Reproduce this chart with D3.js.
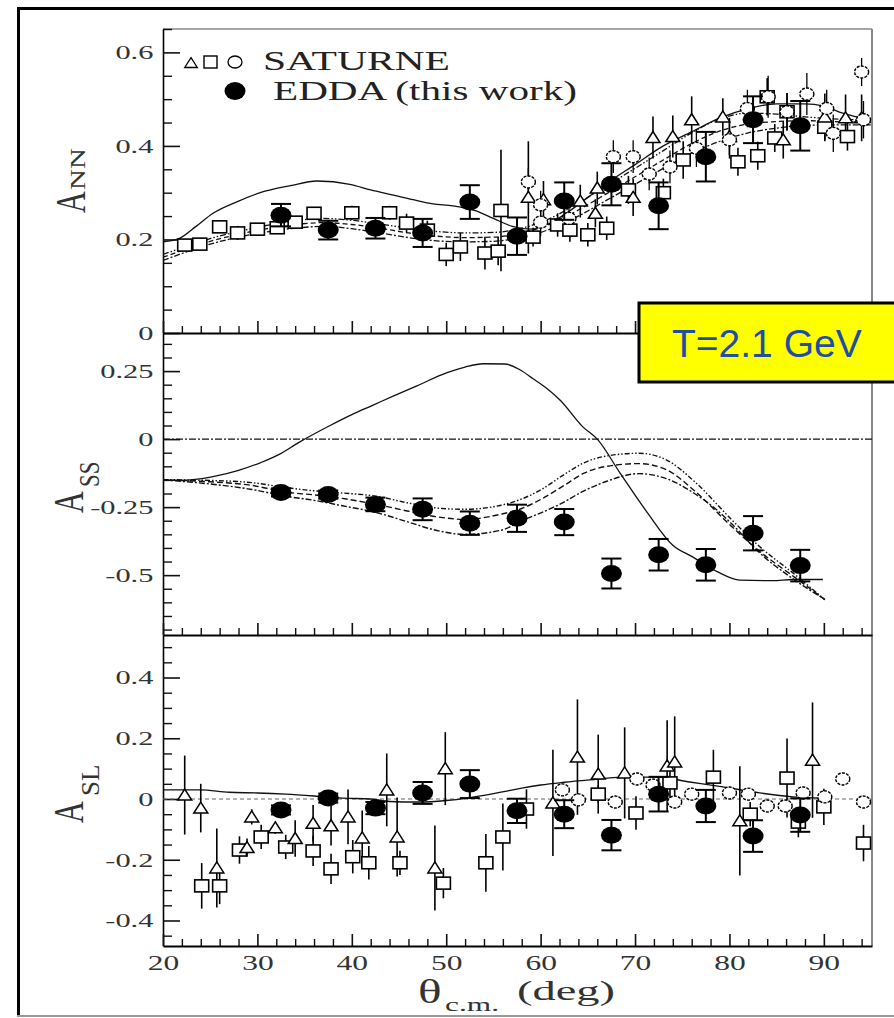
<!DOCTYPE html>
<html><head><meta charset="utf-8">
<script src="https://cdn.jsdelivr.net/npm/d3@7"></script>
<style>body{margin:0;background:#fff}</style>
</head><body>
<svg id="chart" width="894" height="1018"></svg>
<script>
// ---------------- DATA ----------------
const xTicks = [20,30,40,50,60,70,80,90];
const annTicks = [0,0.2,0.4,0.6];
const annTickLabels = ["0","0.2","0.4","0.6"];
const assTicks = [-0.5,-0.25,0,0.25];
const assTickLabels = ["-0.5","-0.25","0","0.25"];
const aslTicks = [-0.4,-0.2,0,0.2,0.4];
const aslTickLabels = ["-0.4","-0.2","0","0.2","0.4"];

// EDDA (this work)
const eddaTheta = [32.5,37.5,42.5,47.5,52.5,57.5,62.5,67.5,72.5,77.5,82.5,87.5];
const eddaANN    = [0.252,0.220,0.224,0.214,0.280,0.207,0.282,0.318,0.272,0.377,0.456,0.443];
const eddaANNerr = [0.024,0.020,0.022,0.030,0.036,0.040,0.040,0.045,0.050,0.053,0.050,0.053];
const eddaASS    = [-0.196,-0.204,-0.240,-0.258,-0.309,-0.291,-0.305,-0.494,-0.425,-0.462,-0.346,-0.465];
const eddaASSerr = [0.015,0.015,0.025,0.040,0.043,0.050,0.048,0.055,0.058,0.058,0.063,0.058];
const eddaASL    = [-0.036,0.003,-0.030,0.020,0.049,-0.039,-0.050,-0.119,0.016,-0.023,-0.122,-0.053];
const eddaASLerr = [0.015,0.015,0.020,0.036,0.046,0.040,0.046,0.050,0.057,0.053,0.052,0.055];

// SATURNE [theta, value, error]
const satANNsq = [[22.3,0.188,0.012],[23.9,0.19,0.012],[26.0,0.227,0.012],[27.9,0.214,0.015],[30.0,0.222,0.012],[32.1,0.225,0.012],[34.0,0.237,0.012],[36.0,0.256,0.012],[40.0,0.257,0.015],[44.0,0.257,0.015],[45.8,0.235,0.02],[48.0,0.22,0.02],[50.0,0.168,0.025],[51.5,0.184,0.03],[54.1,0.171,0.035],[55.5,0.175,0.03],[55.8,0.262,0.13],[59.2,0.205,0.02],[61.8,0.231,0.025],[63.1,0.22,0.025],[65.0,0.21,0.025],[67.0,0.224,0.025],[69.3,0.306,0.03],[73.0,0.30,0.03],[75.1,0.37,0.04],[80.9,0.366,0.03],[83.0,0.379,0.03],[84.0,0.505,0.04],[84.8,0.417,0.03],[86.1,0.473,0.04],[90.1,0.44,0.03],[92.5,0.42,0.03]];
const satANNtri = [[58.7,0.29,0.12],[60.3,0.285,0.04],[64.2,0.282,0.035],[65.8,0.256,0.03],[66.0,0.31,0.035],[69.8,0.29,0.04],[71.9,0.418,0.045],[74.0,0.42,0.045],[76.0,0.456,0.05],[79.3,0.462,0.04],[80.0,0.42,0.04],[85.7,0.413,0.04],[90.1,0.462,0.05],[92.3,0.46,0.05],[94.0,0.46,0.05]];
const satANNcirc = [[58.7,0.323,0.03],[60.0,0.274,0.03],[60.0,0.237,0.03],[63.0,0.245,0.03],[67.7,0.377,0.035],[69.8,0.377,0.035],[71.5,0.34,0.035],[73.7,0.355,0.035],[76.5,0.395,0.04],[80.0,0.413,0.04],[81.9,0.48,0.04],[84.1,0.505,0.045],[86.1,0.473,0.04],[88.2,0.511,0.045],[90.3,0.48,0.04],[91.0,0.427,0.04],[94.0,0.558,0.03],[94.2,0.456,0.04]];
const satASLtri = [[22.3,0.013,0.13],[24.0,-0.03,0.08],[25.7,-0.227,0.13],[28.9,-0.16,0.03],[29.4,-0.059,0.025],[31.9,-0.095,0.02],[34.0,-0.13,0.06],[35.9,-0.08,0.06],[37.8,-0.088,0.065],[39.6,-0.059,0.09],[41.1,-0.128,0.09],[43.7,0.03,0.12],[44.8,-0.125,0.13],[48.8,-0.227,0.14],[49.9,0.1,0.12],[61.3,-0.013,0.175],[63.9,0.138,0.19],[66.1,0.082,0.13],[68.9,0.086,0.15],[73.4,0.109,0.15],[74.2,0.122,0.15],[81.1,-0.072,0.18],[88.8,0.128,0.19]];
const satASLsq = [[24.1,-0.286,0.075],[26.0,-0.286,0.06],[28.1,-0.168,0.045],[30.4,-0.125,0.04],[33.0,-0.158,0.04],[35.9,-0.171,0.05],[37.8,-0.23,0.05],[40.1,-0.19,0.055],[41.8,-0.21,0.055],[45.1,-0.21,0.04],[49.7,-0.277,0.05],[54.2,-0.21,0.095],[56.0,-0.125,0.11],[58.5,-0.033,0.065],[66.1,0.016,0.03],[70.1,-0.046,0.055],[73.7,0.053,0.05],[78.3,0.072,0.09],[82.2,-0.05,0.04],[86.1,0.069,0.13],[87.3,-0.076,0.05],[90.0,-0.026,0.06],[94.2,-0.145,0.06]];
const satASLcirc = [[62.3,0.03,0.02],[64.0,-0.003,0.02],[67.9,-0.01,0.02],[70.2,0.066,0.02],[71.9,0.046,0.02],[74.2,-0.01,0.02],[76.0,0.016,0.02],[80.0,0.02,0.02],[82.0,0.016,0.02],[84.0,-0.023,0.02],[85.9,-0.023,0.02],[87.8,0.02,0.02],[90.1,0.007,0.02],[92.0,0.066,0.02],[94.2,-0.01,0.02]];

// Theory curves [theta, value]
const annSolid = [[20,0.195],[21.8,0.203],[23.5,0.228],[25.3,0.256],[28,0.282],[30.3,0.30],[33.5,0.315],[36.3,0.325],[39.8,0.318],[42,0.306],[44.4,0.295],[46.5,0.285],[48.6,0.276],[50.7,0.272],[53,0.262],[55,0.245],[57,0.228],[59,0.222],[61,0.235],[63,0.26],[65,0.29],[67,0.32],[70,0.36],[73,0.4],[76,0.43],[79,0.46],[82,0.48],[85,0.49],[88,0.49],[90,0.485],[92,0.47],[95,0.455]];
const annCurveA = [[20,0.168],[22,0.182],[25,0.202],[28,0.217],[31,0.23],[34,0.24],[37,0.245],[40,0.241],[43,0.233],[46,0.224],[49,0.217],[52,0.214],[55,0.215],[58,0.224],[61,0.245],[64,0.278],[67,0.315],[70,0.352],[73,0.39],[76,0.428],[79,0.458],[82,0.47],[85,0.468],[88,0.462],[91,0.458],[95,0.455]];
const annCurveB = [[20,0.162],[22,0.176],[25,0.196],[28,0.211],[31,0.223],[34,0.232],[37,0.236],[40,0.232],[43,0.224],[46,0.214],[49,0.207],[52,0.204],[55,0.205],[58,0.214],[61,0.233],[64,0.263],[67,0.298],[70,0.334],[73,0.37],[76,0.405],[79,0.432],[82,0.447],[85,0.452],[88,0.454],[91,0.452],[95,0.45]];
const annCurveC = [[20,0.155],[22,0.17],[25,0.19],[28,0.205],[31,0.216],[34,0.224],[37,0.228],[40,0.223],[43,0.214],[46,0.204],[49,0.197],[52,0.195],[55,0.196],[58,0.205],[61,0.222],[64,0.25],[67,0.284],[70,0.318],[73,0.352],[76,0.385],[79,0.41],[82,0.428],[85,0.438],[88,0.444],[91,0.445],[95,0.445]];
const assSolid = [[20,-0.15],[22,-0.152],[25.3,-0.138],[28,-0.115],[30.3,-0.087],[32.1,-0.06],[34.5,-0.01],[37.7,0.05],[40,0.09],[42.2,0.124],[44.5,0.16],[46.9,0.196],[50.1,0.244],[52,0.265],[53.9,0.277],[56.2,0.276],[57.8,0.255],[59.2,0.222],[60.7,0.185],[62.1,0.142],[64.5,0.044],[66,0],[68.4,-0.124],[71.3,-0.27],[74,-0.39],[76.1,-0.433],[78.7,-0.487],[81.1,-0.518],[84.6,-0.52],[86.7,-0.516],[89.9,-0.516]];
const assCurveA = [[20,-0.149],[25,-0.152],[29.4,-0.16],[33,-0.178],[36,-0.19],[39,-0.198],[42.6,-0.21],[46,-0.235],[48.9,-0.253],[51.9,-0.258],[55.8,-0.243],[58,-0.22],[60.1,-0.185],[62.5,-0.13],[64.6,-0.087],[67,-0.062],[70.4,-0.052],[73.3,-0.076],[76.3,-0.156],[80.2,-0.295],[83.1,-0.392],[87,-0.50],[90.1,-0.59]];
const assCurveB = [[20,-0.15],[25,-0.157],[29.4,-0.17],[33,-0.195],[36,-0.205],[39,-0.218],[42.6,-0.24],[46,-0.265],[48.9,-0.285],[51.9,-0.295],[55.8,-0.276],[58,-0.255],[60.1,-0.22],[62.5,-0.17],[64.6,-0.125],[67,-0.1],[70.4,-0.09],[73.3,-0.112],[76.3,-0.19],[80.2,-0.32],[83.1,-0.41],[87,-0.51],[90.1,-0.59]];
const assCurveC = [[20,-0.15],[25,-0.165],[29.4,-0.185],[33,-0.21],[36,-0.225],[39,-0.245],[42.6,-0.27],[46,-0.305],[48.9,-0.335],[51.9,-0.35],[55.8,-0.335],[58,-0.3],[60.1,-0.27],[62,-0.24],[64.6,-0.19],[67,-0.155],[70.4,-0.127],[73.3,-0.145],[76.3,-0.2],[78.2,-0.247],[80.2,-0.31],[83.1,-0.415],[87,-0.52],[89.9,-0.585]];
const aslSolid = [[20,0.03],[24,0.03],[27,0.022],[30,0.02],[33,0.016],[36,0.01],[39,0.003],[42,0.0],[44,-0.008],[47,-0.01],[50,-0.005],[52.2,0.003],[54,0.012],[56.4,0.026],[58,0.036],[60,0.046],[62.5,0.055],[65.2,0.063],[68.7,0.072],[72.3,0.072],[75.8,0.056],[79.3,0.04],[83.2,0.02],[86.7,0.007],[89.9,0.003]];

// ---------------- LAYOUT ----------------
const svg = d3.select('#chart');
const X0 = 163, X1 = 872;
const x = d3.scaleLinear().domain([20, 95.1]).range([X0, X1]);
const serif = "'Liberation Serif','Times New Roman',serif";

// outer frame
svg.append('line').attr('x1',17).attr('x2',894).attr('y1',8.5).attr('y2',8.5).attr('stroke','#000').attr('stroke-width',3);
svg.append('line').attr('x1',18.5).attr('x2',18.5).attr('y1',7).attr('y2',1016).attr('stroke','#000').attr('stroke-width',3);
svg.append('line').attr('x1',17).attr('x2',894).attr('y1',1016).attr('y2',1016).attr('stroke','#999').attr('stroke-width',2);

const panels = [
  {id:'nn', top:29, bottom:333, domain:[0,0.65], major:annTicks, labels:annTickLabels, minorLo:0.05, minorHi:0.65},
  {id:'ss', top:333, bottom:635, domain:[-0.72,0.39], major:assTicks, labels:assTickLabels, minorLo:-0.70, minorHi:0.36},
  {id:'sl', top:635, bottom:946, domain:[-0.484,0.54], major:aslTicks, labels:aslTickLabels, minorLo:-0.45, minorHi:0.52}
];
panels.forEach(p => { p.y = d3.scaleLinear().domain(p.domain).range([p.bottom, p.top]); });

// gray frame top/right
svg.append('line').attr('x1',X0).attr('x2',X1).attr('y1',29).attr('y2',29).attr('stroke','#888').attr('stroke-width',1.5);
svg.append('line').attr('x1',X1).attr('x2',X1).attr('y1',29).attr('y2',946).attr('stroke','#888').attr('stroke-width',2);

const defs = svg.append('defs');
panels.forEach(p => {
  defs.append('clipPath').attr('id','clip-'+p.id).append('rect')
    .attr('x',X0).attr('y',p.top).attr('width',X1-X0).attr('height',p.bottom-p.top);
});

const xMinor = d3.range(22, 95, 2).filter(v => v % 10 !== 0);

panels.forEach((p, idx) => {
  const y = p.y;
  const minor = d3.range(Math.round(p.minorLo*100), Math.round(p.minorHi*100)+1, 5)
      .map(v => v/100).filter(v => !p.major.some(m => Math.abs(m - v) < 1e-6));
  const gm = svg.append('g').attr('transform',`translate(${X0},0)`)
    .call(d3.axisLeft(y).tickValues(minor).tickSizeInner(-9).tickSizeOuter(0).tickFormat(''));
  gm.select('.domain').remove();
  gm.selectAll('line').attr('stroke','#111').attr('stroke-width',1.4);
  const ga = svg.append('g').attr('transform',`translate(${X0},0)`)
    .call(d3.axisLeft(y).tickValues(p.major).tickSizeInner(-17).tickSizeOuter(0).tickPadding(6)
      .tickFormat((d,i) => p.labels[i]));
  ga.select('.domain').attr('stroke','#000').attr('stroke-width',1.6);
  ga.selectAll('line').attr('stroke','#111').attr('stroke-width',1.6);
  ga.selectAll('text').attr('font-family',serif).attr('font-size',19).attr('fill','#333')
    .attr('transform','scale(1.6,1)').attr('dy','0.34em');
  const xm = svg.append('g').attr('transform',`translate(0,${p.bottom})`)
    .call(d3.axisBottom(x).tickValues(xMinor).tickSizeInner(-7).tickSizeOuter(0).tickFormat(''));
  xm.select('.domain').remove();
  xm.selectAll('line').attr('stroke','#111').attr('stroke-width',1.4);
  const xa = svg.append('g').attr('transform',`translate(0,${p.bottom})`)
    .call(d3.axisBottom(x).tickValues(xTicks).tickSizeInner(-12).tickSizeOuter(0).tickPadding(9)
      .tickFormat(idx === 2 ? d3.format('d') : ''));
  xa.select('.domain').attr('stroke','#000').attr('stroke-width',1.8);
  xa.selectAll('line').attr('stroke','#111').attr('stroke-width',1.6);
  xa.selectAll('text').attr('font-family',serif).attr('font-size',21).attr('fill','#333')
    .attr('transform','scale(1.5,1)');
});

// ---------------- MARKS ----------------
function curve(p, data, dash, width, color) {
  const line = d3.line().x(d => x(d[0])).y(d => p.y(d[1])).curve(d3.curveMonotoneX);
  svg.append('path').datum(data).attr('d', line).attr('fill','none')
    .attr('stroke', color || '#111').attr('stroke-width', width || 1.2)
    .attr('stroke-dasharray', dash || null).attr('clip-path','url(#clip-'+p.id+')');
}
function errBars(g, p, data, width, color) {
  g.selectAll(null).data(data).join('line')
    .attr('x1', d => x(d[0])).attr('x2', d => x(d[0]))
    .attr('y1', d => p.y(d[1]-d[2])).attr('y2', d => p.y(d[1]+d[2]))
    .attr('stroke', color || '#000').attr('stroke-width', width || 1.6);
}
function triPath(cx, cy, s) { return `M${cx},${cy-6*s}L${cx+7*s},${cy+5*s}L${cx-7*s},${cy+5*s}Z`; }
function drawTri(g, p, data) {
  g.selectAll(null).data(data).join('path')
    .attr('d', d => triPath(x(d[0]), p.y(d[1]), 1))
    .attr('fill','#fff').attr('stroke','#000').attr('stroke-width',1.5);
}
function drawSq(g, p, data) {
  g.selectAll(null).data(data).join('rect')
    .attr('x', d => x(d[0]) - 7).attr('y', d => p.y(d[1]) - 6)
    .attr('width', 14).attr('height', 12)
    .attr('fill','#fff').attr('stroke','#000').attr('stroke-width',1.6);
}
function drawCirc(g, p, data) {
  g.selectAll(null).data(data).join('ellipse')
    .attr('cx', d => x(d[0])).attr('cy', d => p.y(d[1])).attr('rx', 7).attr('ry', 6)
    .attr('fill','#fff').attr('stroke','#000').attr('stroke-width',1.4).attr('stroke-dasharray','3,1.2');
}
function drawEdda(p, vals, errs) {
  const g = svg.append('g').attr('clip-path','url(#clip-'+p.id+')');
  const data = eddaTheta.map((t,i) => [t, vals[i], errs[i]]);
  errBars(g, p, data, 2, '#000');
  ['-','+'].forEach(sgn => {
    g.selectAll(null).data(data).join('line')
      .attr('x1', d => x(d[0]) - 10).attr('x2', d => x(d[0]) + 10)
      .attr('y1', d => p.y(sgn === '-' ? d[1]-d[2] : d[1]+d[2]))
      .attr('y2', d => p.y(sgn === '-' ? d[1]-d[2] : d[1]+d[2]))
      .attr('stroke','#000').attr('stroke-width',2);
  });
  g.selectAll(null).data(data).join('ellipse')
    .attr('cx', d => x(d[0])).attr('cy', d => p.y(d[1])).attr('rx', 10.5).attr('ry', 8.5)
    .attr('fill','#000');
}
function drawSat(p, tri, sq, circ) {
  const g = svg.append('g').attr('clip-path','url(#clip-'+p.id+')');
  errBars(g, p, sq, 1.6); errBars(g, p, tri, 1.6); errBars(g, p, circ, 1.3);
  drawSq(g, p, sq); drawTri(g, p, tri); drawCirc(g, p, circ);
}

const [pNN, pSS, pSL] = panels;

// Panel A_NN
curve(pNN, annSolid, null, 1.3);
curve(pNN, annCurveA, '6,2,1.5,2,1.5,2', 1.3);
curve(pNN, annCurveB, '5,3', 1.3);
curve(pNN, annCurveC, '6,2,2,2', 1.3);
drawSat(pNN, satANNtri, satANNsq, satANNcirc);
drawEdda(pNN, eddaANN, eddaANNerr);

// Panel A_SS
svg.append('line').attr('x1',X0).attr('x2',X1).attr('y1',pSS.y(0)).attr('y2',pSS.y(0))
  .attr('stroke','#111').attr('stroke-width',1.4).attr('stroke-dasharray','7,2,2,2');
curve(pSS, assSolid, null, 1.3);
curve(pSS, assCurveA, '5,2,1.5,2,1.5,2', 1.4);
curve(pSS, assCurveB, '6,3', 1.4);
curve(pSS, assCurveC, '6,2,2,2', 1.4);
drawEdda(pSS, eddaASS, eddaASSerr);

// Panel A_SL
svg.append('line').attr('x1',X0).attr('x2',X1).attr('y1',pSL.y(0)).attr('y2',pSL.y(0))
  .attr('stroke','#666').attr('stroke-width',1).attr('stroke-dasharray','4,3');
curve(pSL, aslSolid, null, 1.4);
drawSat(pSL, satASLtri, satASLsq, satASLcirc);
drawEdda(pSL, eddaASL, eddaASLerr);

// ---------------- LEGEND ----------------
svg.append('path').attr('d', triPath(191, 63, 0.9)).attr('fill','#fff').attr('stroke','#000').attr('stroke-width',1.3);
svg.append('rect').attr('x',204).attr('y',56).attr('width',13).attr('height',12).attr('fill','#fff').attr('stroke','#000').attr('stroke-width',1.4);
svg.append('ellipse').attr('cx',235).attr('cy',62).attr('rx',7).attr('ry',6).attr('fill','#fff').attr('stroke','#000').attr('stroke-width',1.3);
svg.append('text').attr('x',263).attr('y',70).attr('font-family',serif).attr('font-size',27).attr('fill','#222')
  .attr('textLength',187).attr('lengthAdjust','spacingAndGlyphs').text('SATURNE');
svg.append('ellipse').attr('cx',235).attr('cy',91).attr('rx',10.5).attr('ry',9).attr('fill','#000');
svg.append('text').attr('x',273).attr('y',100).attr('font-family',serif).attr('font-size',27).attr('fill','#222')
  .attr('textLength',304).attr('lengthAdjust','spacingAndGlyphs').text('EDDA (this work)');

// ---------------- AXIS TITLES ----------------
function rotText(xb, ys, txt, size, sa, sh) {
  svg.append('text').attr('transform',`translate(${xb},${ys}) rotate(-90) scale(${sa},${sh})`)
    .attr('font-family',serif).attr('font-size',size).attr('fill','#333').text(txt);
}
rotText(85, 213, 'A', 30, 1, 1.4);  rotText(85, 190, 'NN', 20, 1.45, 1.0);
rotText(83, 513, 'A', 30, 1, 1.4);  rotText(99, 487, 'SS', 20, 1.15, 1.45);
rotText(83, 823, 'A', 30, 1, 1.4);  rotText(99, 796, 'SL', 20, 1.35, 1.3);

svg.append('text').attr('transform','translate(418,1003) scale(1.45,1)')
  .attr('font-family',serif).attr('font-size',34).attr('fill','#333').text('θ');
svg.append('text').attr('x',445).attr('y',1011).attr('font-family',serif).attr('font-size',19).attr('fill','#333')
  .attr('textLength',54).attr('lengthAdjust','spacingAndGlyphs').text('c.m.');
svg.append('text').attr('x',517).attr('y',1000).attr('font-family',serif).attr('font-size',28).attr('fill','#333')
  .attr('textLength',98).attr('lengthAdjust','spacingAndGlyphs').text('(deg)');

// ---------------- ENERGY BOX ----------------
svg.append('rect').attr('x',639).attr('y',303).attr('width',270).attr('height',79)
  .attr('fill','#ffff00').attr('stroke','#000').attr('stroke-width',3);
svg.append('text').attr('x',672).attr('y',357).attr('font-family',"'Liberation Sans',Arial,sans-serif")
  .attr('font-size',39).attr('fill','#1f4ea3').text('T=2.1 GeV');
</script>
</body></html>
